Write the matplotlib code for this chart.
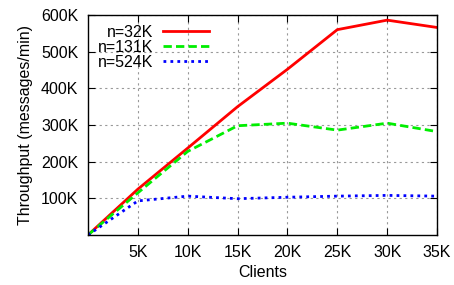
import numpy as np
import matplotlib.pyplot as plt

plt.rcParams['font.family'] = ['Liberation Sans', 'DejaVu Sans']

clients = [0, 5, 10, 15, 20, 25, 30, 35]
n32k = [0, 125, 237, 350, 452, 560, 586, 566]
n131k = [0, 115, 228, 298, 305, 286, 305, 282]
n524k = [0, 93, 106, 99, 103, 106, 108, 106]

fig = plt.figure(figsize=(4.54, 2.85), dpi=100)
ax = fig.add_axes([88/454, 1 - 235/285, 349/454, 220/285])

ax.plot(clients, n32k, color='#ff0000', lw=2, label='n=32K')
ax.plot(clients, n131k, color='#00ee00', lw=2, ls=(0, (3, 1.5)), label='n=131K')
ax.plot(clients, n524k, color='#0000ff', lw=2, ls=(0, (1, 1.5)), label='n=524K')

ax.set_xlim(0, 35)
ax.set_ylim(0, 600)
xt = [5, 10, 15, 20, 25, 30, 35]
yt = [100, 200, 300, 400, 500, 600]
ax.set_xticks(xt)
ax.set_xticklabels([f'{v}K' for v in xt])
ax.set_yticks(yt)
ax.set_yticklabels([f'{v}K' for v in yt])
ax.tick_params(direction='in', top=True, right=True, labelsize=11.5, length=5, pad=7)
ax.grid(True, ls=(0, (2, 3)), color='#999999', lw=0.8)
for s in ax.spines.values():
    s.set_linewidth(1)

ax.set_xlabel('Clients', fontsize=11.5, labelpad=4)
ax.set_ylabel('Throughput (messages/min)', fontsize=11.5, labelpad=6)

ax.legend(loc='upper left', frameon=False, markerfirst=False, fontsize=11.5,
          handlelength=2.9, labelspacing=0.0, borderaxespad=0.0,
          handletextpad=0.6, bbox_to_anchor=(0.01, 0.985))

fig.savefig('out.png', dpi=100)
